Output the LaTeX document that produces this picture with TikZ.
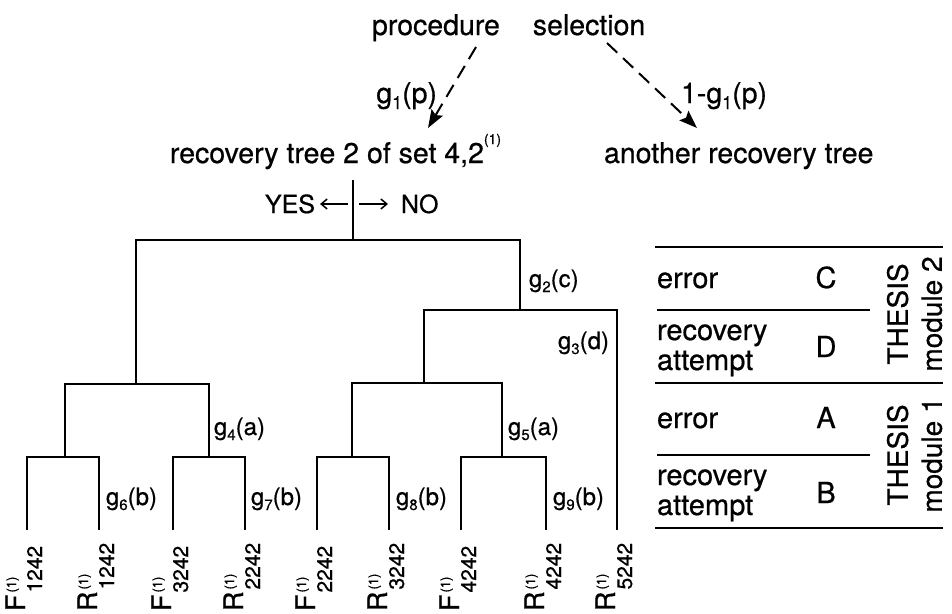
\documentclass[tikz,border=0pt]{standalone}
\usepackage{fontspec}
\setmainfont{TeX Gyre Heros}[FakeBold=0.6]
\usetikzlibrary{arrows.meta}
\newcommand{\glab}[2]{g\raisebox{-5pt}{\fontsize{15}{15}\selectfont #1}(#2)}
\newcommand{\gbig}[2]{#1g\raisebox{-6pt}{\fontsize{18}{18}\selectfont 1}(#2)}
\newcommand{\leaflab}[2]{#1\kern2pt\rlap{\raisebox{9pt}{\fontsize{13}{13}\selectfont(1)}}\raisebox{-17pt}{\fontsize{21}{21}\selectfont #2}}
\begin{document}
\begin{tikzpicture}[x=1pt,y=-1pt,
  tbase/.style={inner sep=0pt, outer sep=0pt},
  ttop/.style={tbase, font=\fontsize{28.5}{34}\selectfont},
  tyn/.style={tbase, font=\fontsize{25}{30}\selectfont},
  tg/.style={tbase, font=\fontsize{24}{28}\selectfont},
  tleaf/.style={tbase, rotate=90, anchor=base west, font=\fontsize{27}{30}\selectfont},
  ttab/.style={tbase, font=\fontsize{29}{30}\selectfont},
  tthesis/.style={tbase, rotate=90, font=\fontsize{28}{34}\selectfont},
  tree/.style={line width=2.2pt, line join=miter},
  tabline/.style={line width=2pt},
  dasharrow/.style={line width=2pt, dash pattern=on 14pt off 8pt, -{Stealth[length=18pt,width=13pt,inset=3pt]}},
  smallarrow/.style={line width=1.5pt, -{Straight Barb[length=6pt,width=10pt]}}
]
\useasboundingbox (0,0) rectangle (952,613);

% top texts
\node[ttop, anchor=base west] (sel) at (372,35) {procedure\hspace{33pt}selection};
\coordinate (sl) at (476,47);
\coordinate (sr) at (607,43);
\coordinate (tl) at (428,128);
\coordinate (tr) at (697,128);
\draw[dasharrow] (sl) -- (tl);
\draw[dasharrow] (sr) -- (tr);
\node[ttop, anchor=base east] (g1) at (437,103) {\gbig{}{p}};
\node[ttop, anchor=base west] (g1n) at (681,103) {\gbig{1-}{p}};
\node[ttop, anchor=base west] (rt2) at (170,163) {recovery tree 2 of set 4,2\raisebox{19pt}{\fontsize{14}{14}\selectfont(1)}};
\node[ttop, anchor=base west] (another) at (604,163) {another recovery tree};

% YES / NO
\node[tyn, anchor=base east] (yes) at (315,213) {YES};
\node[tyn, anchor=base west] (no) at (401,213) {NO};
\coordinate (ya) at (348,204); \coordinate (yb) at (320,204);
\coordinate (na) at (359,204); \coordinate (nb) at (388,204);
\draw[smallarrow] (ya) -- (yb);
\draw[smallarrow] (na) -- (nb);

% tree coordinates
\coordinate (rt) at (353,180);
\coordinate (r) at (353,240);
\coordinate (aL) at (136,240); \coordinate (aR) at (520,240);
\coordinate (b) at (136,384); \coordinate (bL) at (65,384); \coordinate (bR) at (209,384);
\coordinate (c1) at (65,457); \coordinate (c1L) at (27,457); \coordinate (c1R) at (99,457);
\coordinate (c2) at (209,457); \coordinate (c2L) at (173,457); \coordinate (c2R) at (245,457);
\coordinate (d) at (520,310); \coordinate (dL) at (424,310); \coordinate (dR) at (617,310);
\coordinate (e) at (424,383); \coordinate (eL) at (352,383); \coordinate (eR) at (502,383);
\coordinate (c3) at (352,457); \coordinate (c3L) at (317,457); \coordinate (c3R) at (389,457);
\coordinate (c4) at (502,457); \coordinate (c4L) at (461,457); \coordinate (c4R) at (546,457);
\coordinate (l1) at (27,530); \coordinate (l2) at (99,530);
\coordinate (l3) at (173,530); \coordinate (l4) at (245,530);
\coordinate (l5) at (317,530); \coordinate (l6) at (389,530);
\coordinate (l7) at (461,530); \coordinate (l8) at (546,530);
\coordinate (l9) at (617,530);

\draw[tree] (rt) -- (r);
\draw[tree] (b) -- (aL) -- (aR) -- (d);
\draw[tree] (c1) -- (bL) -- (bR) -- (c2);
\draw[tree] (l1) -- (c1L) -- (c1R) -- (l2);
\draw[tree] (l3) -- (c2L) -- (c2R) -- (l4);
\draw[tree] (e) -- (dL) -- (dR) -- (l9);
\draw[tree] (c3) -- (eL) -- (eR) -- (c4);
\draw[tree] (l5) -- (c3L) -- (c3R) -- (l6);
\draw[tree] (l7) -- (c4L) -- (c4R) -- (l8);

% branch labels
\node[tg, anchor=base west] (g2) at (529,287) {\glab{2}{c}};
\node[tg, anchor=base east] (g3) at (609,349) {\glab{3}{d}};
\node[tg, anchor=base west] (g4) at (214,435) {\glab{4}{a}};
\node[tg, anchor=base west] (g5) at (508,435) {\glab{5}{a}};
\node[tg, anchor=base west] (g6) at (106,505) {\glab{6}{b}};
\node[tg, anchor=base west] (g7) at (251,505) {\glab{7}{b}};
\node[tg, anchor=base west] (g8) at (396,505) {\glab{8}{b}};
\node[tg, anchor=base west] (g9) at (553,505) {\glab{9}{b}};

% leaf labels
\node[tleaf] (f1) at (25,611) {\leaflab{F}{1242}};
\node[tleaf] (f2) at (97,611) {\leaflab{R}{1242}};
\node[tleaf] (f3) at (171,611) {\leaflab{F}{3242}};
\node[tleaf] (f4) at (243,611) {\leaflab{R}{2242}};
\node[tleaf] (f5) at (315,611) {\leaflab{F}{2242}};
\node[tleaf] (f6) at (387,611) {\leaflab{R}{3242}};
\node[tleaf] (f7) at (459,611) {\leaflab{F}{4242}};
\node[tleaf] (f8) at (544,611) {\leaflab{R}{4242}};
\node[tleaf] (f9) at (615,611) {\leaflab{R}{5242}};

% table
\draw[tabline] (655,247) -- (943,247);
\draw[tabline] (657,310) -- (870,310);
\draw[tabline] (655,383) -- (943,383);
\draw[tabline] (657,455) -- (870,455);
\draw[tabline] (655,528) -- (943,528);

\node[ttab, anchor=base west] (err2) at (657,288) {error};
\node[ttab, anchor=base] (lc) at (826,288) {C};
\node[ttab, anchor=base west] (rec2) at (657,340) {\begin{tabular}[t]{@{}l@{}}recovery\\attempt\end{tabular}};
\node[ttab, anchor=base] (ld) at (826,357) {D};
\node[ttab, anchor=base west] (err1) at (657,428) {error};
\node[ttab, anchor=base] (la) at (826,428) {A};
\node[ttab, anchor=base west] (rec1) at (657,485) {\begin{tabular}[t]{@{}l@{}}recovery\\attempt\end{tabular}};
\node[ttab, anchor=base] (lb) at (826,503) {B};

\node[tthesis] (m2) at (918,314) {\begin{tabular}{@{}c@{}}THESIS\\module 2\end{tabular}};
\node[tthesis] (m1) at (918,455) {\begin{tabular}{@{}c@{}}THESIS\\module 1\end{tabular}};
\end{tikzpicture}
\end{document}
